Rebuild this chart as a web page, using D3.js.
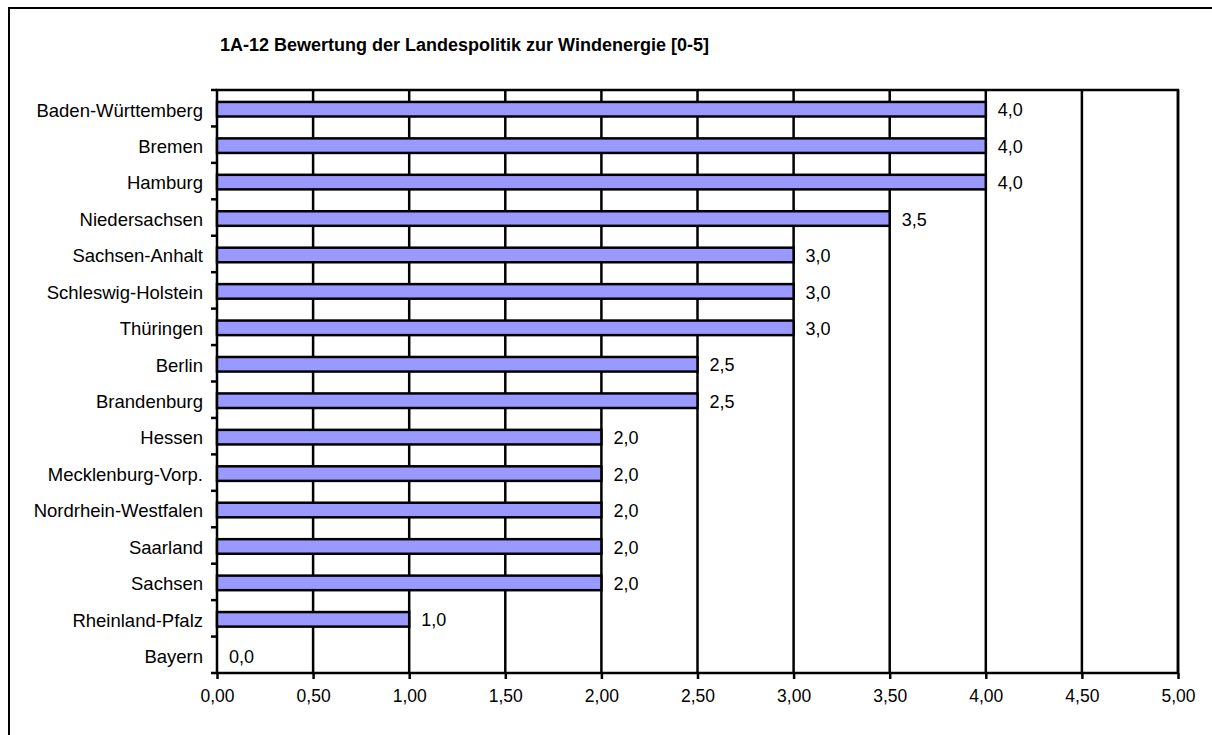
<!DOCTYPE html>
<html>
<head>
<meta charset="utf-8">
<script src="https://cdn.jsdelivr.net/npm/d3@7"></script>
<style>
  body { margin: 0; background: #fff; }
  text { font-family: "Liberation Sans", Arial, sans-serif; fill: #000; }
</style>
</head>
<body>
<div id="chart"></div>
<script>
/* data */
var laender = ["Baden-Württemberg", "Bremen", "Hamburg", "Niedersachsen", "Sachsen-Anhalt",
  "Schleswig-Holstein", "Thüringen", "Berlin", "Brandenburg", "Hessen", "Mecklenburg-Vorp.",
  "Nordrhein-Westfalen", "Saarland", "Sachsen", "Rheinland-Pfalz", "Bayern"];
var werte = [4.0, 4.0, 4.0, 3.5, 3.0, 3.0, 3.0, 2.5, 2.5, 2.0, 2.0, 2.0, 2.0, 2.0, 1.0, 0.0];
var xTicks = [0, 0.5, 1, 1.5, 2, 2.5, 3, 3.5, 4, 4.5, 5];
var titel = "1A-12 Bewertung der Landespolitik zur Windenergie [0-5]";

var W = 1212, H = 735;
var margin = { top: 90, right: 34, bottom: 62, left: 217 },
    width = W - margin.left - margin.right,
    height = H - margin.top - margin.bottom;

var comma = function (fmt) { return function (d) { return d3.format(fmt)(d).replace(".", ","); }; };

var root = d3.select("#chart")
             .append("svg")
             .attr("width", W)
             .attr("height", H);

// outer border (only left and top visible)
root.append("path")
    .attr("d", "M9," + H + " V8 H" + W)
    .attr("fill", "none")
    .attr("stroke", "#000")
    .attr("stroke-width", 2);

root.append("text")
    .attr("x", 220)
    .attr("y", 51)
    .style("font-size", "18px")
    .style("font-weight", "bold")
    .text(titel);

var svg = root.append("g")
              .attr("transform", "translate(" + margin.left + "," + margin.top + ")");

var x = d3.scaleLinear().domain([0, 5]).range([0, width]);
var y = d3.scaleBand().domain(laender).range([0, height]).paddingInner(0.6).paddingOuter(0.3);

/* grid lines */
svg.selectAll(".grid")
   .data(xTicks.slice(1))
   .enter()
   .append("line")
   .attr("x1", function (d) { return x(d); })
   .attr("x2", function (d) { return x(d); })
   .attr("y1", 0)
   .attr("y2", height)
   .style("stroke", "#000")
   .style("stroke-width", 2.5);

/* plot frame */
svg.append("rect")
   .attr("x", 0).attr("y", 0)
   .attr("width", width).attr("height", height)
   .attr("fill", "none")
   .attr("stroke", "#000")
   .attr("stroke-width", 2.5);

/* bars */
svg.selectAll(".bar")
   .data(werte)
   .enter()
   .append("rect")
   .attr("x", 0)
   .attr("y", function (d, i) { return y(laender[i]) + 1; })
   .attr("width", function (d) { return x(d); })
   .attr("height", y.bandwidth())
   .style("fill", "#9999ff")
   .style("stroke", "#000")
   .style("stroke-width", 2.5)
   .style("display", function (d) { return d > 0 ? null : "none"; });

/* value labels */
svg.selectAll(".lbl")
   .data(werte)
   .enter()
   .append("text")
   .attr("x", function (d) { return x(d) + 12; })
   .attr("y", function (d, i) { return y(laender[i]) + y.bandwidth() / 2; })
   .attr("dy", "0.45em")
   .style("font-size", "18px")
   .text(comma(".1f"));

/* y axis: category labels and ticks at band boundaries */
var step = height / laender.length;
svg.selectAll(".cat")
   .data(laender)
   .enter()
   .append("text")
   .attr("x", -14)
   .attr("y", function (d) { return y(d) + y.bandwidth() / 2; })
   .attr("dy", "0.45em")
   .style("text-anchor", "end")
   .style("font-size", "18.5px")
   .text(function (d) { return d; });

svg.selectAll(".ytick")
   .data(d3.range(laender.length + 1))
   .enter()
   .append("line")
   .attr("x1", -6).attr("x2", 0)
   .attr("y1", function (i) { return i * step; })
   .attr("y2", function (i) { return i * step; })
   .style("stroke", "#000")
   .style("stroke-width", 2.5);

/* x axis */
var xAxis = svg.append("g")
   .attr("transform", "translate(0," + height + ")")
   .call(d3.axisBottom(x).tickValues(xTicks).tickSize(6).tickFormat(comma(".2f")));
xAxis.select(".domain").remove();
xAxis.selectAll("line").style("stroke", "#000").style("stroke-width", 2.5);
xAxis.selectAll("text")
     .attr("y", 17)
     .style("font-size", "17.5px")
     .style("font-family", "'Liberation Sans', Arial, sans-serif");
</script>
</body>
</html>
